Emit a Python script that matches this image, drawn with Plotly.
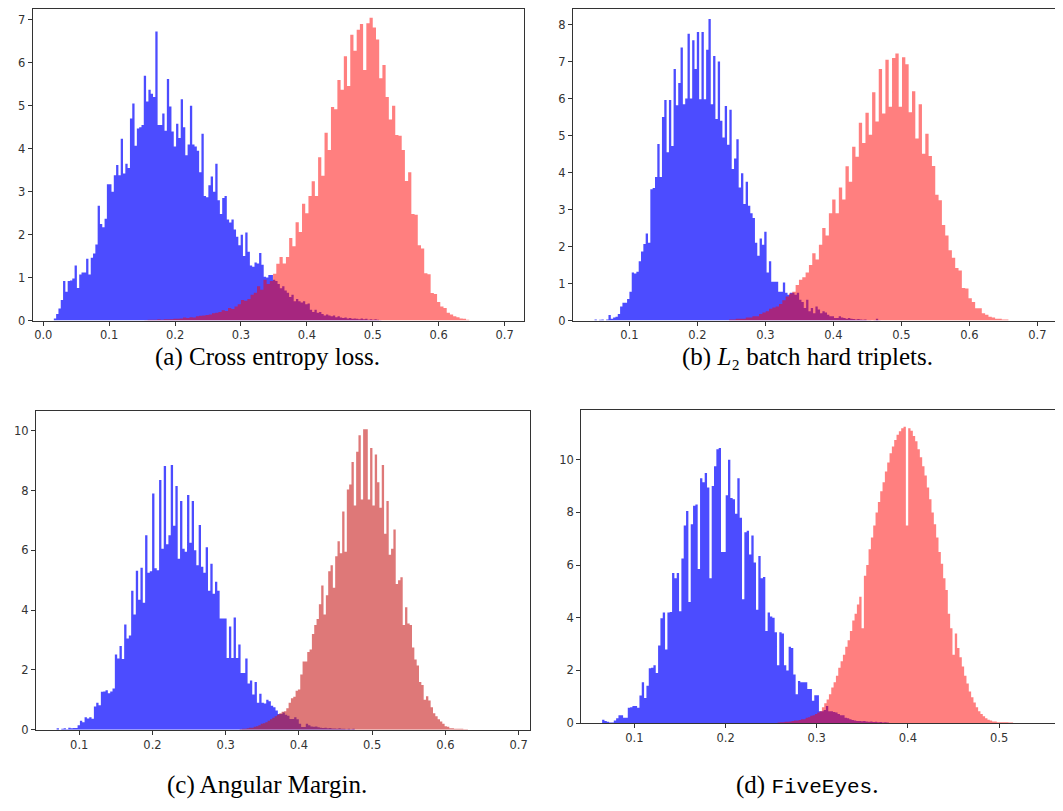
import plotly.graph_objects as go

# ---------------- data (density histograms) ----------------
# (a) Cross entropy loss
BLUE_A_START, BLUE_A_WIDTH = 0.016, 0.0035
BLUE_A = [0.05,0.15,0.28,0.48,0.92,0.67,0.92,0.93,0.98,1.28,0.76,1.07,1.12,1.12,1.44,1.07,1.46,1.56,1.77,2.67,
          2.25,2.17,2.37,3.17,3.17,3.0,3.38,3.62,3.38,4.23,3.42,3.65,3.55,4.7,5.05,4.07,4.47,4.5,4.55,5.7,
          5.1,5.37,5.28,5.2,6.73,4.55,4.55,4.82,4.42,5.62,4.98,4.4,4.05,4.58,4.25,5.15,4.5,3.85,4.1,5.0,
          4.1,4.05,3.95,3.45,4.35,2.9,2.87,3.15,3.35,3.0,3.65,2.8,2.48,2.85,2.9,2.35,2.28,2.35,2.12,1.95,
          1.75,2.0,1.5,2.05,1.6,1.28,1.25,1.35,1.33,1.57,1.3,1.02,1.0,1.06,1.06,0.95,0.92,0.85,0.75,0.8,
          0.7,0.65,0.55,0.6,0.45,0.5,0.45,0.42,0.45,0.38,0.4,0.25,0.2,0.25,0.18,0.2,0.15,0.12,0.14,0.12,
          0.1,0.12,0.08,0.1,0.07,0.06,0.07,0.05,0.06,0.04,0.05,0.04,0.03,0.05,0.03,0.04,0.02,0.03,0.02,0.03,
          0.02,0.01]
RED_A_START, RED_A_WIDTH = 0.1535, 0.00488
RED_A = [0.01,0.02,0.02,0.02,0.03,0.02,0.03,0.03,0.03,0.04,0.04,0.05,0.07,0.06,0.08,0.07,0.1,0.11,0.12,0.13,
         0.14,0.17,0.18,0.2,0.24,0.22,0.29,0.27,0.33,0.38,0.48,0.46,0.5,0.6,0.65,0.8,0.72,0.95,0.85,0.92,
         1.09,1.32,1.48,1.33,1.48,1.92,1.73,2.29,2.06,2.72,2.5,2.9,3.24,2.9,3.8,3.37,4.37,3.97,4.97,4.92,
         5.6,5.37,6.15,5.46,6.65,6.28,6.77,6.9,5.83,6.92,7.05,6.82,6.54,5.64,5.95,5.2,4.68,5.0,4.32,4.3,
         3.97,3.25,3.45,2.48,2.46,1.75,1.68,1.1,1.08,0.64,0.62,0.43,0.33,0.29,0.18,0.14,0.1,0.08,0.05,0.04,
         0.02]

# (b) L2 batch hard triplets
BLUE_B_START, BLUE_B_WIDTH = 0.0487, 0.00342
BLUE_B = [0.03,0.0,0.02,0.03,0.0,0.03,0.15,0.05,0.08,0.1,0.18,0.38,0.48,0.48,0.58,0.78,1.3,1.27,1.32,1.6,
          1.87,2.07,2.35,2.1,3.55,3.58,3.88,4.77,3.88,5.5,5.96,4.55,5.96,4.72,6.8,5.82,6.42,7.38,5.85,6.0,
          7.75,6.0,7.58,6.8,7.8,5.98,7.8,5.98,7.32,8.15,5.85,7.15,5.45,7.0,5.4,4.95,5.8,4.75,5.7,4.1,
          4.38,4.9,3.6,3.98,3.15,3.75,3.1,2.9,2.77,2.1,1.75,2.22,2.05,2.4,1.3,1.6,1.05,1.05,1.05,0.78,
          0.78,1.03,0.75,0.7,0.75,0.75,0.7,0.75,0.56,0.5,0.34,0.56,0.25,0.34,0.2,0.38,0.3,0.2,0.25,0.22,
          0.16,0.12,0.12,0.07,0.07,0.12,0.08,0.07,0.05,0.07,0.05,0.04,0.03,0.04,0.03,0.02,0.03,0.01,0.01,0.0,
          0.01,0.05,0.01]
RED_B_START, RED_B_WIDTH = 0.2467, 0.00489
RED_B = [0.03,0.03,0.05,0.05,0.05,0.08,0.08,0.12,0.12,0.18,0.22,0.25,0.32,0.35,0.38,0.45,0.55,0.65,0.73,0.78,
         0.96,1.1,1.17,1.3,1.5,1.82,1.65,2.05,2.5,2.3,2.9,3.27,2.9,3.6,3.27,4.17,3.75,4.7,4.43,5.35,
         4.8,5.62,5.02,6.17,5.38,6.8,5.6,7.05,5.78,7.1,7.22,5.78,7.12,6.93,5.63,6.2,4.92,5.85,4.51,5.05,
         4.45,4.18,3.4,3.25,2.58,2.3,1.9,1.7,1.42,1.35,0.88,0.87,0.6,0.5,0.33,0.33,0.2,0.16,0.1,0.08,
         0.05,0.05,0.03,0.03]

# (c) Angular Margin
BLUE_C_START, BLUE_C_WIDTH = 0.0691, 0.00318
BLUE_C = [0.05,0.0,0.03,0.05,0.02,0.07,0.05,0.06,0.06,0.15,0.3,0.25,0.42,0.38,0.42,0.37,0.78,0.9,0.82,1.27,
          1.28,1.32,1.22,1.28,1.38,2.52,2.38,2.8,2.37,3.52,3.05,3.15,4.65,3.85,5.32,4.35,5.42,4.25,6.5,5.25,
          5.3,7.9,5.4,5.33,8.35,6.05,8.82,6.2,6.5,8.85,6.82,8.15,5.72,7.65,6.05,5.95,7.85,6.25,7.65,6.0,
          5.5,6.85,5.45,5.25,6.1,4.65,5.55,4.55,4.95,4.65,3.72,3.72,3.72,2.4,3.45,2.4,3.75,2.4,2.85,1.9,
          1.9,2.38,1.55,1.65,1.18,1.6,0.9,1.2,0.9,0.88,1.0,0.95,0.8,0.75,0.64,0.53,0.53,0.58,0.5,0.47,
          0.36,0.36,0.42,0.35,0.2,0.09,0.09,0.2,0.15,0.11,0.1,0.11,0.08,0.07,0.06,0.07,0.05,0.06,0.04,0.04,
          0.03,0.05,0.03,0.03,0.02,0.03,0.02,0.03]
RED_C_START, RED_C_WIDTH = 0.3191, 0.00318
RED_C = [0.02,0.03,0.03,0.05,0.07,0.07,0.1,0.12,0.15,0.2,0.22,0.25,0.3,0.35,0.4,0.45,0.5,0.55,0.6,0.62,
         0.72,0.9,1.05,1.1,1.3,1.35,1.85,2.28,2.28,2.6,2.68,3.2,3.5,3.7,4.2,4.82,3.85,4.5,5.3,5.5,
         4.75,5.8,6.3,5.9,7.3,5.95,8.03,8.2,8.95,7.5,9.3,9.85,7.7,10.05,10.05,7.7,9.42,7.5,9.2,8.28,
         7.42,8.85,6.55,7.65,5.85,6.05,6.7,4.87,5.0,5.1,3.5,4.1,3.55,3.5,2.75,2.35,2.15,1.6,1.5,1.0,
         1.12,0.98,0.75,0.55,0.45,0.35,0.28,0.2,0.12,0.1,0.05,0.05,0.03,0.03,0.03,0.03,0.02,0.02]

# (d) FiveEyes
BLUE_D_START, BLUE_D_WIDTH = 0.0646, 0.002557
BLUE_D = [0.13,0.08,0.05,0.02,0.02,0.1,0.18,0.3,0.3,0.2,0.2,0.58,0.6,0.65,0.65,0.58,1.05,1.55,0.95,1.42,
          2.08,2.1,2.2,1.9,2.95,3.98,4.2,2.8,4.2,4.22,5.7,5.5,5.7,4.25,6.25,7.5,8.05,4.6,7.55,8.25,
          8.3,5.85,9.3,9.15,9.5,8.95,5.5,9.0,9.75,10.4,10.45,6.5,6.5,8.65,10.0,8.55,8.5,7.95,9.3,7.8,
          4.7,7.25,7.3,6.4,7.12,6.1,4.3,6.35,5.5,5.55,3.5,4.2,4.05,4.0,3.45,2.2,3.45,3.4,2.2,2.0,
          2.9,2.85,1.85,1.1,1.6,1.55,1.55,1.55,1.3,1.3,0.85,1.06,1.06,0.45,0.45,0.5,0.65,0.45,0.45,0.42,
          0.4,0.35,0.3,0.3,0.2,0.18,0.15,0.12,0.1,0.08,0.08,0.07,0.08,0.06,0.05,0.06,0.04,0.05,0.03,0.04,
          0.02,0.03,0.02]
RED_D_START, RED_D_WIDTH = 0.2571, 0.002557
RED_D = [0.02,0.03,0.03,0.05,0.05,0.06,0.08,0.1,0.1,0.12,0.15,0.15,0.2,0.22,0.28,0.3,0.35,0.4,0.45,0.6,
         0.75,0.9,1.1,1.35,1.55,1.8,2.1,2.35,2.6,2.9,3.15,3.5,3.9,4.15,4.5,4.8,3.6,5.6,6.0,6.6,
         7.05,7.5,8.0,8.4,8.8,9.15,9.55,9.9,10.25,10.5,10.75,10.95,11.08,11.2,11.25,7.5,11.2,11.1,10.9,10.7,
         10.4,10.1,9.75,9.4,8.95,8.5,8.0,7.55,7.05,6.5,6.05,5.5,5.05,4.15,3.6,2.6,3.4,2.85,2.5,2.15,
         1.8,1.5,1.2,0.98,0.78,0.6,0.45,0.35,0.26,0.18,0.13,0.1,0.06,0.06,0.03,0.03,0.03,0.03,0.03,0.02,
         0.02]

CAPTIONS = ["(a) Cross entropy loss.",
            "(b) <i>L</i>₂ batch hard triplets.",
            "(c) Angular Margin.",
            "(d) <span style='font-family:Liberation Mono, monospace;font-size:21px'>FiveEyes</span>."]

X_TICKS = [[0.0,0.1,0.2,0.3,0.4,0.5,0.6,0.7], [0.1,0.2,0.3,0.4,0.5,0.6,0.7],
           [0.1,0.2,0.3,0.4,0.5,0.6,0.7], [0.1,0.2,0.3,0.4,0.5]]
Y_TICKS = [[0,1,2,3,4,5,6,7], [0,1,2,3,4,5,6,7,8], [0,2,4,6,8,10], [0,2,4,6,8,10]]

# ---------------- layout geometry ----------------
# The page body keeps its default 8px margin, so the figure is drawn 8px smaller and
# every target pixel position is shifted by that offset.
PAGE_W, PAGE_H, OFF = 1063, 811, 8
W, H = PAGE_W - OFF, PAGE_H - OFF
BLUE = "rgba(0,0,255,0.7)"
RED = "rgba(255,0,0,0.5)"
RED_C_COLOR = "rgba(200,30,30,0.6)"

panels = [
    dict(blue=(BLUE_A_START, BLUE_A_WIDTH, BLUE_A), red=(RED_A_START, RED_A_WIDTH, RED_A), redc=RED,
         px=(32.7, 524.3), py=(1.7, 322.7), xr=(-0.0161, 0.7292), yr=(0, 7.396), cap=(268, 360)),
    dict(blue=(BLUE_B_START, BLUE_B_WIDTH, BLUE_B), red=(RED_B_START, RED_B_WIDTH, RED_B), redc=RED,
         px=(573.3, 1063), py=(1.7, 322.7), xr=(0.0167, 0.7363), yr=(0, 8.59), cap=(808, 360)),
    dict(blue=(BLUE_C_START, BLUE_C_WIDTH, BLUE_C), red=(RED_C_START, RED_C_WIDTH, RED_C), redc=RED_C_COLOR,
         px=(36, 530.7), py=(414, 736), xr=(0.0409, 0.7158), yr=(0, 10.66), cap=(267, 792)),
    dict(blue=(BLUE_D_START, BLUE_D_WIDTH, BLUE_D), red=(RED_D_START, RED_D_WIDTH, RED_D), redc=RED,
         px=(581.7, 1063), py=(413.3, 729.3), xr=(0.0416, 0.569), yr=(0, 11.88), cap=(808, 792)),
]


def step_trace(start, width, heights, color, xa, ya):
    edges = [start + i * width for i in range(len(heights) + 1)]
    ys = list(heights) + [heights[-1]]
    return go.Scatter(x=edges, y=ys, mode="lines", line=dict(width=0, color=color, shape="hv"),
                      fill="tozeroy", fillcolor=color, xaxis=xa, yaxis=ya, hoverinfo="skip",
                      showlegend=False)


fig = go.Figure()
layout = dict(width=W, height=H, margin=dict(l=0, r=0, t=0, b=0), paper_bgcolor="white",
              plot_bgcolor="white", showlegend=False, annotations=[])
tickfont = dict(family="DejaVu Sans", size=11.5, color="#333333")

for k, p in enumerate(panels):
    n = "" if k == 0 else str(k + 1)
    xa, ya = "x" + n, "y" + n
    fig.add_trace(step_trace(*p["blue"], BLUE, xa, ya))
    fig.add_trace(step_trace(*p["red"], p["redc"], xa, ya))
    x0, x1 = p["px"][0] - OFF, p["px"][1] - OFF
    y0, y1 = p["py"][0] - OFF, p["py"][1] - OFF
    xs = (p["xr"][1] - p["xr"][0]) / (x1 - x0)
    ys = (p["yr"][1] - p["yr"][0]) / (y1 - y0)
    # clamp to the visible figure, keeping the data scale unchanged
    cx1 = min(x1, W)
    cy0 = max(y0, 0)
    xr = [p["xr"][0], p["xr"][0] + (cx1 - x0) * xs]
    yr = [p["yr"][0], p["yr"][0] + (y1 - cy0) * ys]
    layout["xaxis" + n] = dict(domain=[x0 / W, cx1 / W], range=xr, anchor=ya,
                               tickvals=X_TICKS[k], ticktext=["%.1f" % v for v in X_TICKS[k]],
                               ticks="outside", ticklen=4, tickwidth=1, tickcolor="#333333",
                               showline=True, linecolor="#333333", linewidth=1, mirror=True,
                               showgrid=False, zeroline=False, tickfont=tickfont)
    layout["yaxis" + n] = dict(domain=[1 - y1 / H, 1 - cy0 / H], range=yr, anchor=xa,
                               tickvals=Y_TICKS[k], ticktext=[str(v) for v in Y_TICKS[k]],
                               ticks="outside", ticklen=4, tickwidth=1, tickcolor="#333333",
                               showline=True, linecolor="#333333", linewidth=1, mirror=True,
                               showgrid=False, zeroline=False, tickfont=tickfont)
    cx, cy = p["cap"][0] - OFF, p["cap"][1] - OFF
    layout["annotations"].append(dict(text=CAPTIONS[k], x=cx / W, y=1 - cy / H, xref="paper", yref="paper",
                                      xanchor="center", yanchor="middle", showarrow=False, borderpad=0,
                                      font=dict(family="Liberation Serif, serif", size=25, color="black")))

fig.update_layout(**layout)
fig.write_html("out.html", config={"displayModeBar": False})
